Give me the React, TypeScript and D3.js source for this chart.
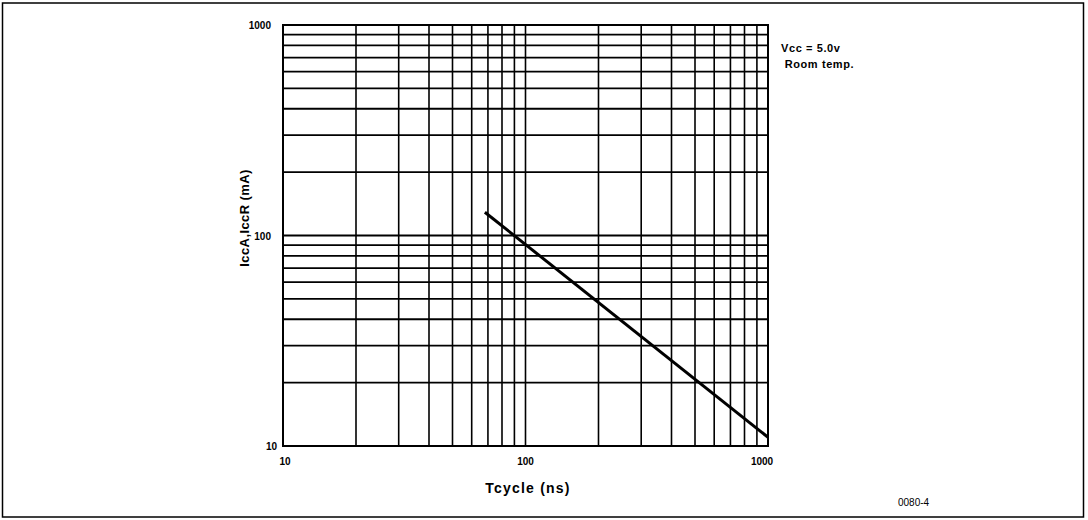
import React from "react";
import * as d3 from "d3";

const xTickLabels = [10, 100, 1000];
const yTickLabels = [10, 100, 1000];
const xGridValues = [10, 20, 30, 40, 50, 60, 70, 80, 90, 100, 200, 300, 400, 500, 600, 700, 800, 900, 1000];
const yGridValues = [10, 20, 30, 40, 50, 60, 70, 80, 90, 100, 200, 300, 400, 500, 600, 700, 800, 900, 1000];
const tcycle = [68, 1000];
const icc = [129, 11];
const notes = ["Vcc = 5.0v", " Room temp."];
const figId = "0080-4";

export default function App() {
  const W = 1088, H = 520;
  const x = d3.scaleLog().domain([10, 1000]).range([283, 768]);
  const y = d3.scaleLog().domain([10, 1000]).range([446, 25]);
  const pts: [number, number][] = tcycle.map((t, i) => [t, icc[i]]);
  const line = d3.line<[number, number]>().x(d => x(d[0])).y(d => y(d[1]));
  const font = "'Liberation Sans', Arial, sans-serif";
  return (
    <svg width={W} height={H} style={{ position: "absolute", left: 0, top: 0, background: "#fff" }}>
      <rect x={2.5} y={3} width={1081} height={514} fill="none" stroke="#000" strokeWidth={1.5} />
      {xGridValues.map(v => (
        <line key={"x" + v} x1={x(v)} x2={x(v)} y1={y(10)} y2={y(1000)} stroke="#000" strokeWidth={1.6} />
      ))}
      {yGridValues.map(v => (
        <line key={"y" + v} x1={x(10)} x2={x(1000)} y1={y(v)} y2={y(v)} stroke="#000" strokeWidth={1.8} />
      ))}
      <rect x={x(10)} y={y(1000)} width={x(1000) - x(10)} height={y(10) - y(1000)} fill="none" stroke="#000" strokeWidth={2} />
      <path d={line(pts) || ""} fill="none" stroke="#000" strokeWidth={3} />
      {yTickLabels.map(v => (
        <text key={"yl" + v} x={v === 10 ? 277 : 271} y={y(v) + 4} textAnchor="end" fontFamily={font} fontWeight="bold" fontSize={10}>{v}</text>
      ))}
      {xTickLabels.map((v, i) => (
        <text key={"xl" + v} x={x(v) + (i === 2 ? -6 : i === 0 ? 2 : 0)} y={465} textAnchor="middle" fontFamily={font} fontWeight="bold" fontSize={10}>{v}</text>
      ))}
      <text x={528} y={493} textAnchor="middle" fontFamily={font} fontWeight="bold" fontSize={14} letterSpacing={1.2}>Tcycle (ns)</text>
      <text transform="translate(249,218) rotate(-90)" textAnchor="middle" fontFamily={font} fontWeight="bold" fontSize={13} letterSpacing={0.4}>IccA,IccR (mA)</text>
      {notes.map((n, i) => (
        <text key={n} x={781} y={52 + i * 16} fontFamily={font} fontWeight="bold" fontSize={11} letterSpacing={0.6} xmlSpace="preserve">{n}</text>
      ))}
      <text x={898} y={506} fontFamily={font} fontSize={10}>{figId}</text>
    </svg>
  );
}
